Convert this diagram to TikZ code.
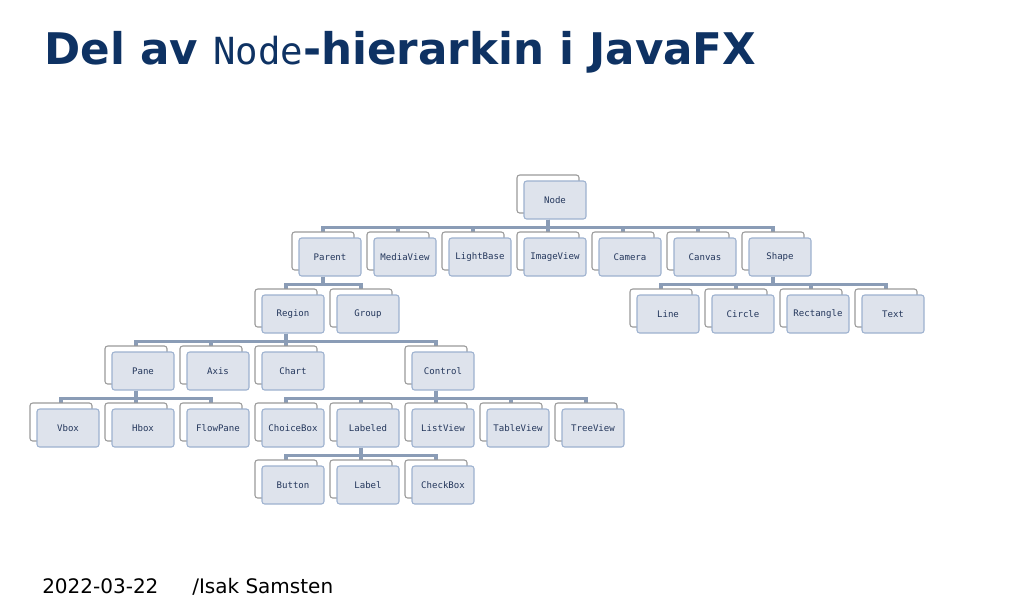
\documentclass[tikz,border=0pt]{standalone}
\usepackage{fontspec}
\setmainfont{DejaVu Sans}
\newfontfamily\monofont{DejaVu Sans Mono}
\usetikzlibrary{shadows,backgrounds}
\definecolor{titleblue}{HTML}{0E3263}
\definecolor{boxfill}{HTML}{DEE3EC}
\definecolor{boxline}{HTML}{9DB1CF}
\definecolor{backline}{HTML}{9A9A9A}
\definecolor{boxtext}{HTML}{24375C}
\definecolor{linkblue}{HTML}{8A9CB6}

\begin{document}
\begin{tikzpicture}[x=0.75pt, y=-0.75pt,
    cls/.style={rectangle, rounded corners=2pt, draw=boxline, fill=boxfill, line width=0.8pt, minimum width=46.5pt, minimum height=28.5pt, inner sep=0pt, text=boxtext, font=\fontsize{6.8pt}{8pt}\monofont,
        copy shadow={shadow xshift=-5.25pt, shadow yshift=4.5pt, fill=white, draw=backline, line width=0.8pt}},
    link/.style={draw=linkblue, line width=2.4pt}
]
\useasboundingbox (0,0) rectangle (1031,611);

% Rubrik
\node[anchor=base west, inner sep=0pt, text=titleblue, font=\fontsize{32.7pt}{38pt}\selectfont\bfseries] (title) at (44,64)
    {Del av {\monofont\mdseries\fontsize{28pt}{32pt}\selectfont Node}-hierarkin i JavaFX};

% Klasser
\node[cls] (node) at (555,200) {Node};

\node[cls] (parent) at (330,257) {Parent};
\node[cls] (mediaview) at (405,257) {MediaView};
\node[cls] (lightbase) at (480,257) {LightBase};
\node[cls] (imageview) at (555,257) {ImageView};
\node[cls] (camera) at (630,257) {Camera};
\node[cls] (canvas) at (705,257) {Canvas};
\node[cls] (shape) at (780,257) {Shape};

\node[cls] (region) at (293,314) {Region};
\node[cls] (group) at (368,314) {Group};
\node[cls] (line) at (668,314) {Line};
\node[cls] (circle) at (743,314) {Circle};
\node[cls] (rectangle) at (818,314) {Rectangle};
\node[cls] (text) at (893,314) {Text};

\node[cls] (pane) at (143,371) {Pane};
\node[cls] (axis) at (218,371) {Axis};
\node[cls] (chart) at (293,371) {Chart};
\node[cls] (control) at (443,371) {Control};

\node[cls] (vbox) at (68,428) {Vbox};
\node[cls] (hbox) at (143,428) {Hbox};
\node[cls] (flowpane) at (218,428) {FlowPane};
\node[cls] (choicebox) at (293,428) {ChoiceBox};
\node[cls] (labeled) at (368,428) {Labeled};
\node[cls] (listview) at (443,428) {ListView};
\node[cls] (tableview) at (518,428) {TableView};
\node[cls] (treeview) at (593,428) {TreeView};

\node[cls] (button) at (293,485) {Button};
\node[cls] (label) at (368,485) {Label};
\node[cls] (checkbox) at (443,485) {CheckBox};

% Kopplingar
\begin{scope}[on background layer]
\foreach \p/\cs in {node/{parent,mediaview,lightbase,imageview,camera,canvas,shape},
                    parent/{region,group}, shape/{line,circle,rectangle,text},
                    region/{pane,axis,chart,control}, pane/{vbox,hbox,flowpane},
                    control/{choicebox,labeled,listview,tableview,treeview},
                    labeled/{button,label,checkbox}}
  \foreach \c in \cs
    \draw[link] ([xshift=-5.25pt]\p.south) -- ++(0,8) -| ([xshift=-5.25pt]\c.north);
\end{scope}

% Sidfot
\node[anchor=base west, inner sep=0pt, font=\fontsize{15pt}{18pt}\selectfont] (date) at (42,593) {2022-03-22};
\node[anchor=base west, inner sep=0pt, font=\fontsize{15pt}{18pt}\selectfont] (author) at (192,593) {/Isak Samsten};

\end{tikzpicture}
\end{document}
